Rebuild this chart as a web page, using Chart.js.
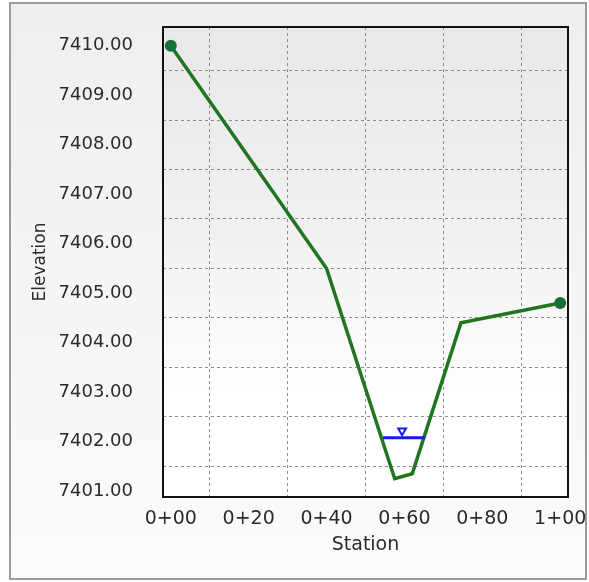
<!DOCTYPE html>
<html>
<head>
<meta charset="utf-8">
<script src="https://cdn.jsdelivr.net/npm/chart.js@4"></script>
<style>
  html, body { margin: 0; padding: 0; background: #ffffff; }
  #frame {
    position: absolute; left: 9px; top: 2px; width: 574px; height: 574px;
    border: 2px solid #9a9a9a;
    background: linear-gradient(#efefef, #fbfbfb);
  }
  #wrap { position: absolute; left: 0; top: 0; width: 589px; height: 582px; }
</style>
</head>
<body>
<div id="frame"></div>
<div id="wrap"><canvas id="chart" width="589" height="582"></canvas></div>
<script>
// Cross-section data (station, elevation)
const stations = [0, 40, 57.5, 62, 74.5, 100];
const elevations = [7410.0, 7405.5, 7401.25, 7401.35, 7404.4, 7404.8];

// Water surface
const waterStations = [54.5, 65.3];
const waterElevation = 7402.08;
const markerStation = 59.4;
const markerElevation = 7402.22;

// Axis ranges
const stationMin = -2, stationMax = 102, stationStep = 20;
const elevMin = 7400.88, elevMax = 7410.38, elevStep = 1;

const groundData = stations.map((s, i) => ({ x: s, y: elevations[i] }));
const waterData = waterStations.map(s => ({ x: s, y: waterElevation }));

function formatStation(v) {
    const hundreds = Math.floor(v / 100);
    const rest = Math.round(v - hundreds * 100);
    return hundreds + '+' + String(rest).padStart(2, '0');
}

// Background of the plot area and the black frame around it
const plotFrame = {
    id: 'plotFrame',
    beforeDraw(chart) {
        const { ctx, chartArea: a } = chart;
        const g = ctx.createLinearGradient(0, a.top, 0, a.bottom);
        g.addColorStop(0, '#e9e9e9');
        g.addColorStop(0.45, '#f1f1f1');
        g.addColorStop(0.8, '#ffffff');
        g.addColorStop(1, '#ffffff');
        ctx.save();
        ctx.fillStyle = g;
        ctx.fillRect(a.left, a.top, a.right - a.left, a.bottom - a.top);
        ctx.restore();
    },
    afterDraw(chart) {
        const { ctx, chartArea: a } = chart;
        ctx.save();
        ctx.strokeStyle = '#111111';
        ctx.lineWidth = 2;
        ctx.strokeRect(a.left, a.top, a.right - a.left, a.bottom - a.top);
        ctx.restore();
    }
};

new Chart(document.getElementById('chart'), {
    type: 'scatter',
    data: {
        datasets: [
            {
                label: 'Ground',
                data: groundData,
                showLine: true,
                borderColor: '#217521',
                borderWidth: 3.5,
                pointRadius: stations.map((s, i) => (i === 0 || i === stations.length - 1) ? 6 : 0),
                pointBackgroundColor: '#16703a',
                pointBorderColor: '#16703a',
                pointBorderWidth: 0,
                order: 2
            },
            {
                label: 'Water',
                data: waterData,
                showLine: true,
                borderColor: '#1a1ae6',
                borderWidth: 3,
                pointRadius: 0,
                order: 1
            },
            {
                label: 'WS marker',
                data: [{ x: markerStation, y: markerElevation }],
                pointStyle: 'triangle',
                rotation: 180,
                pointRadius: 4.5,
                pointBackgroundColor: '#ffffff',
                pointBorderColor: '#1a1ae6',
                pointBorderWidth: 2,
                order: 0
            }
        ]
    },
    options: {
        responsive: false,
        animation: false,
        layout: { padding: { left: 30, top: 27, right: 21, bottom: 26 } },
        plugins: {
            legend: { display: false },
            tooltip: { enabled: false }
        },
        scales: {
            x: {
                type: 'linear',
                min: stationMin,
                max: stationMax,
                afterFit(scale) { scale.height = 59; },
                ticks: {
                    stepSize: stationStep,
                    includeBounds: false,
                    autoSkip: false,
                    maxRotation: 0,
                    padding: 0,
                    color: '#2b2b2b',
                    font: { family: 'DejaVu Sans', size: 19 },
                    callback: v => formatStation(v)
                },
                grid: {
                    offset: true,
                    color: '#8c8c8c',
                    lineWidth: 1,
                    tickLength: 11,
                    tickColor: 'rgba(0,0,0,0)'
                },
                border: { display: false, dash: [3, 3] },
                title: {
                    display: true,
                    text: 'Station',
                    color: '#2b2b2b',
                    font: { family: 'DejaVu Sans', size: 19 },
                    padding: 0
                }
            },
            y: {
                type: 'linear',
                min: elevMin,
                max: elevMax,
                afterFit(scale) { scale.width = 133; },
                ticks: {
                    stepSize: elevStep,
                    includeBounds: false,
                    autoSkip: false,
                    padding: 0,
                    color: '#2b2b2b',
                    font: { family: 'DejaVu Sans', size: 18 },
                    callback: v => v.toFixed(2)
                },
                grid: {
                    offset: true,
                    color: '#8c8c8c',
                    lineWidth: 1,
                    tickLength: 30,
                    tickColor: 'rgba(0,0,0,0)'
                },
                border: { display: false, dash: [3, 3] },
                title: {
                    display: true,
                    text: 'Elevation',
                    color: '#2b2b2b',
                    font: { family: 'DejaVu Sans', size: 17 },
                    padding: 0
                }
            }
        }
    },
    plugins: [plotFrame]
});
</script>
</body>
</html>
